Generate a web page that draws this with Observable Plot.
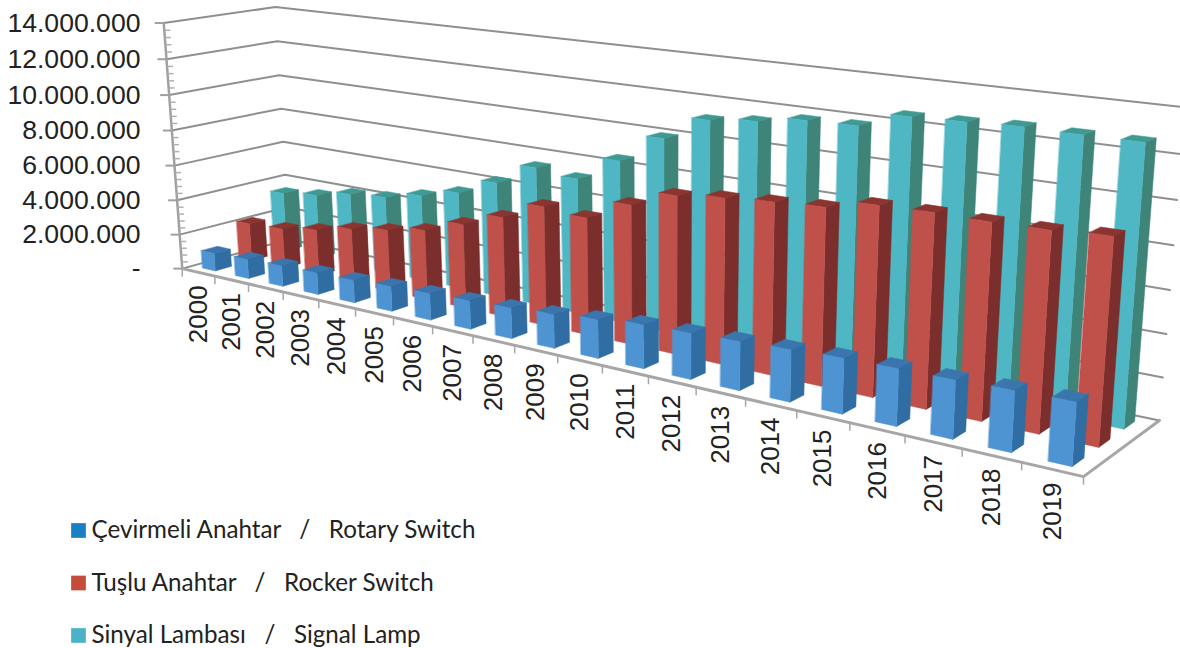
<!DOCTYPE html>
<html>
<head>
<meta charset="utf-8">
<style>html,body{margin:0;padding:0;background:#fff;overflow:hidden}</style>
<script src="https://cdn.jsdelivr.net/npm/d3@7"></script>
<script src="https://cdn.jsdelivr.net/npm/@observablehq/plot@0.6"></script>
</head>
<body>
<div id="chart"></div>
<script>
const years = [2000,2001,2002,2003,2004,2005,2006,2007,2008,2009,2010,2011,2012,2013,2014,2015,2016,2017,2018,2019];
const rotary = [1.02,1.09,1.16,1.20,1.24,1.35,1.42,1.50,1.59,1.74,1.96,2.19,2.27,2.37,2.49,2.61,2.66,2.68,2.76,2.82].map(v=>v*1e6);
const rocker = [2.19,2.28,2.62,3.08,3.42,3.82,4.55,5.32,6.28,6.09,7.14,7.97,8.23,8.41,8.55,9.02,9.08,9.06,9.10,9.25].map(v=>v*1e6);
const lamp   = [3.47,3.72,4.15,4.34,4.82,5.36,6.28,7.45,7.21,8.51,9.97,11.19,11.44,11.79,11.86,12.58,12.65,12.75,12.72,12.72].map(v=>v*1e6);
const gap = "\u00a0\u00a0\u00a0";
const seriesNames = [`Çevirmeli Anahtar${gap}/${gap}Rotary Switch`,`Tuşlu Anahtar${gap}/${gap}Rocker Switch`,`Sinyal Lambası${gap}/${gap}Signal Lamp`];
const legendColors = ["#1a80c4","#c54b3a","#4bb2c8"];
const frontColors = ["#4f94d2","#c0504a","#4fb6c4"];
const sideColors  = ["#2f6da3","#7c2e2c","#3e8478"];
const topColors   = ["#3a76ad","#8b3430","#3f9a94"];
const yTicks = [0,2e6,4e6,6e6,8e6,10e6,12e6,14e6];
const yLabels = ["-","2.000.000","4.000.000","6.000.000","8.000.000","10.000.000","12.000.000","14.000.000"];
const yMax = 14e6;

// camera calibration: box corners (u along years, w depth, h value fraction) -> page pixels
const camera = [[0,0,0,182,267],[0,0,1,163,23],[0,1,0,288,240],[0,1,1,275,6],[1,0,0,1083,477],[1,1,0,1159,419],[1,1,1,1184,107]];
function solveCamera(pts){
  const A=[],B=[];
  for(const [u,w,h,x,y] of pts){
    A.push([u,w,h,1,0,0,0,0,-x*u,-x*w,-x*h]);B.push(x);
    A.push([0,0,0,0,u,w,h,1,-y*u,-y*w,-y*h]);B.push(y);
  }
  const n=11,M=[];
  for(let i=0;i<n;i++){M.push(new Array(n+1).fill(0));
    for(let j=0;j<n;j++)for(let k=0;k<A.length;k++)M[i][j]+=A[k][i]*A[k][j];
    for(let k=0;k<A.length;k++)M[i][n]+=A[k][i]*B[k];}
  for(let i=0;i<n;i++){let p=i;for(let r=i+1;r<n;r++)if(Math.abs(M[r][i])>Math.abs(M[p][i]))p=r;
    [M[i],M[p]]=[M[p],M[i]];
    for(let r=0;r<n;r++){if(r===i)continue;const f=M[r][i]/M[i][i];for(let c=i;c<=n;c++)M[r][c]-=f*M[i][c];}}
  return M.map((row,i)=>row[n]/row[i]);
}
const C=solveCamera(camera);
function proj(u,w,v){
  const h=v/yMax, W=C[8]*u+C[9]*w+C[10]*h+1;
  return {x:(C[0]*u+C[1]*w+C[2]*h+C[3])/W, y:(C[4]*u+C[5]*w+C[6]*h+C[7])/W};
}

// bars: three faces per bar, painted back to front
const barFrac=0.39, depthFrac=0.44;
const faces=[];
[lamp,rocker,rotary].forEach((vals,k)=>{
  const s=2-k;
  vals.forEach((v,i)=>{
    const n=years.length;
    const u0=(i+.5-barFrac/2)/n,u1=(i+.5+barFrac/2)/n;
    const w0=(s+.5-depthFrac/2)/3,w1=(s+.5+depthFrac/2)/3;
    const poly=(name,c,pts)=>pts.forEach(p=>faces.push({id:`${s}-${i}-${name}`,c,...proj(...p)}));
    poly("top",topColors[s],[[u0,w0,v],[u1,w0,v],[u1,w1,v],[u0,w1,v]]);
    poly("side",sideColors[s],[[u1,w0,0],[u1,w1,0],[u1,w1,v],[u1,w0,v]]);
    poly("front",frontColors[s],[[u0,w0,0],[u1,w0,0],[u1,w0,v],[u0,w0,v]]);
  });
});

// walls
const grid=[];
yTicks.forEach((t,i)=>[[0,0],[0,1],[1,1]].forEach(([u,w])=>grid.push({id:i,...proj(u,w,t)})));
const floorLine=[[0,0],[1,0],[1,1]].map(([u,w])=>proj(u,w,0));
const axisLine=[proj(0,0,0),proj(0,0,yMax)];
const majorTicks=yTicks.map(t=>{const p=proj(0,0,t);return {x1:p.x-9,x2:p.x,y:p.y}});
const minorTicks=d3.range(0,yMax+1,4e5).filter(t=>t%2e6!==0).map(t=>{const p=proj(0,0,t);return {x1:p.x,x2:p.x+6,y:p.y}});
const yearTicks=d3.range(0,years.length+1).map(i=>{const p=proj(i/years.length,0,0);return {x:p.x,y1:p.y,y2:p.y+8}});
const yLab=yTicks.map((t,i)=>({t:yLabels[i],y:proj(0,0,t).y}));
const xLab=years.map((t,i)=>{const p=proj((i+.5)/years.length,0,0);return {t:String(t),x:p.x,y:p.y+13}});
const legend=seriesNames.map((t,i)=>({t,c:legendColors[i],y:530+i*52.5}));

const chart=Plot.plot({
  width:1180,height:648,margin:0,
  x:{domain:[0,1180],range:[0,1180],axis:null},
  y:{domain:[0,648],range:[0,648],axis:null},
  marks:[
    Plot.line(grid,{x:"x",y:"y",z:"id",stroke:"#8f8f8f",strokeWidth:2,clip:true}),
    Plot.line(axisLine,{x:"x",y:"y",stroke:"#a0a0a0",strokeWidth:2.5}),
    Plot.link(majorTicks,{x1:"x1",x2:"x2",y1:"y",y2:"y",stroke:"#a0a0a0",strokeWidth:2}),
    Plot.link(minorTicks,{x1:"x1",x2:"x2",y1:"y",y2:"y",stroke:"#b0b0b0",strokeWidth:1.5}),
    Plot.line(floorLine,{x:"x",y:"y",stroke:"#a6a6a6",strokeWidth:3}),
    Plot.link(yearTicks,{x1:"x",x2:"x",y1:"y1",y2:"y2",stroke:"#a6a6a6",strokeWidth:1.5}),
    Plot.line(faces,{x:"x",y:"y",z:"id",fill:"c",stroke:"c",strokeWidth:.5,curve:"linear-closed"}),
    Plot.text(yLab,{text:"t",x:()=>140,y:"y",textAnchor:"end",fontSize:26.6,fontFamily:"Liberation Sans",fill:"#222"}),
    Plot.text(xLab,{text:"t",x:"x",y:"y",rotate:-90,textAnchor:"end",fontSize:26,fontFamily:"Liberation Sans",fill:"#222"}),
    Plot.dot(legend,{x:()=>78,y:"y",symbol:"square",r:8.3,fill:"c"}),
    Plot.text(legend,{text:"t",x:()=>91,y:"y",textAnchor:"start",fontSize:24.2,fontFamily:"Lato",fill:"#222"})
  ]
});
document.getElementById("chart").append(chart);
</script>
</body>
</html>
